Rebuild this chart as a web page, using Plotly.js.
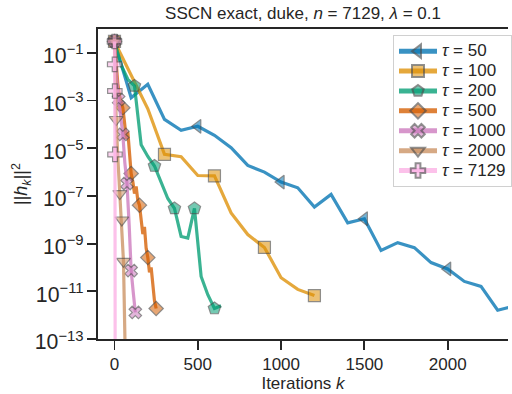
<!DOCTYPE html>
<html>
<head>
<meta charset="utf-8">
<script src="https://cdn.plot.ly/plotly-3.0.1.min.js"></script>
<style>html,body{margin:0;padding:0;background:#fff;}#chart{width:512px;height:394px;}</style>
</head>
<body>
<div id="chart"></div>
<script>
// Series labels
const tauLabels = ["50", "100", "200", "500", "1000", "2000", "7129"];

// tau = 50
const x50 = [0,100,200,300,400,500,600,700,800,900,1000,1100,1200,1300,1400,1500,1600,1700,1800,1900,2000,2100,2200,2300,2400];
const y50 = [3.0e-1,1.32e-3,4.8e-3,1.62e-4,5.6e-5,8.3e-5,3.5e-5,1.05e-5,1.9e-6,1.0e-6,3.8e-7,2.2e-7,3.4e-8,1.15e-7,7.4e-9,1.1e-8,5.2e-10,1.1e-9,6.8e-10,1.6e-10,8.7e-11,2.6e-11,1.6e-11,1.6e-12,2.4e-12];
const m50 = [0,5,10,15,20];

// tau = 100
const x100 = [0,100,200,300,400,500,600,700,800,900,1000,1100,1200];
const y100 = [3.0e-1,1.26e-2,4.5e-4,5.5e-6,4.4e-6,7.2e-7,6.9e-7,1.95e-8,2.4e-9,6.9e-10,3.7e-11,1.2e-11,6.6e-12];
const m100 = [0,3,6,9,12];

// tau = 200
const x200 = [0,40,80,120,160,200,240,280,320,360,400,440,480,520,560,600,640];
const y200 = [3.0e-1,3.0e-2,7.8e-3,4.1e-3,1.4e-5,4.5e-6,1.8e-6,4.1e-7,7.8e-8,3.0e-8,2.0e-9,1.7e-9,3.0e-8,4.2e-11,7.2e-12,1.9e-12,2.5e-12];
const m200 = [0,3,6,9,12,15];

// tau = 500
const x500 = [0,10,20,30,40,50,60,70,80,90,100,110,120,130,140,150,160,170,180,190,200,210,220,230,240,250];
const y500 = [3.0e-1,2.5e-2,5.0e-3,1.6e-3,7.9e-4,5.0e-4,1.26e-4,2.5e-5,5.0e-5,4.0e-6,8.7e-7,4.0e-7,1.26e-7,2.5e-7,6.3e-8,4.1e-8,1.0e-8,2.5e-9,5.0e-9,6.3e-10,2.6e-10,6.3e-11,1.0e-10,1.26e-11,4.0e-12,1.9e-12];
const m500 = [0,5,10,15,20,25];

// tau = 1000
const x1000 = [0,12,25,37,50,62,75,88,100,112,125];
const y1000 = [3.0e-1,1.0e-2,1.1e-3,2.0e-4,3.8e-5,2.5e-6,3.3e-7,6.3e-9,7.4e-11,1.0e-11,1.3e-12];
const m1000 = [0,2,4,6,8,10];

// tau = 2000
const x2000 = [0,10,20,32,44,54,64];
const y2000 = [3.0e-1,1.6e-4,4.0e-6,1.26e-7,9.8e-9,1.8e-10,3.2e-14];
const m2000 = [0,1,3,4,5];

// tau = 7129
const x7129 = [0,1,2,3,4];
const y7129 = [3.0e-1,3.3e-2,2.5e-3,5.5e-6,1.0e-14];
const m7129 = [0,1,2,3,4];

const series = [
  {x:x50, y:y50, m:m50, c:[1,115,178], sym:"triangle-left", s:12},
  {x:x100, y:y100, m:m100, c:[222,143,5], sym:"square", s:12},
  {x:x200, y:y200, m:m200, c:[2,158,115], sym:"pentagon", s:13},
  {x:x500, y:y500, m:m500, c:[213,94,0], sym:"diamond", s:11},
  {x:x1000, y:y1000, m:m1000, c:[204,120,188], sym:"x", s:11},
  {x:x2000, y:y2000, m:m2000, c:[202,145,97], sym:"triangle-down", s:12},
  {x:x7129, y:y7129, m:m7129, c:[251,175,228], sym:"cross", s:12}
];

const A = 0.78;
const traces = series.map((d, i) => {
  const col = `rgba(${d.c[0]},${d.c[1]},${d.c[2]},${A})`;
  const sizes = d.x.map((_, j) => d.m.includes(j) ? d.s : 0);
  const lw = d.x.map((_, j) => d.m.includes(j) ? 1.2 : 0);
  return {
    x: d.x, y: d.y, type: "scatter", mode: "lines+markers",
    name: '<span style="font-size:17px"><i>τ</i> = ' + tauLabels[i] + '</span>',
    line: {color: col, width: 3.2},
    marker: {symbol: d.sym, size: sizes, color: col,
             line: {color: "rgba(70,70,70,0.85)", width: lw}},
    hoverinfo: "skip"
  };
});

const fam = "Liberation Sans, Arial, sans-serif";
const font = {family: fam, size: 17, color: "#262626"};

const layout = {
  width: 512, height: 394,
  margin: {l: 98, r: 0, t: 29, b: 55, pad: 0},
  paper_bgcolor: "#fff", plot_bgcolor: "#fff",
  font: font,
  showlegend: true,
  title: {text: "SSCN exact, duke, <i>n</i> = 7129, <i>λ</i> = 0.1",
          x: 0.5, xref: "paper", xanchor: "center",
          y: 1 - 13/394, yref: "container", yanchor: "middle",
          font: {family: fam, size: 17, color: "#262626"}},
  xaxis: {
    range: [-99, 2362], showgrid: false, zeroline: false,
    showline: true, linecolor: "#262626", linewidth: 2, mirror: true,
    ticks: "outside", ticklen: 9, tickwidth: 1.8, tickcolor: "#262626",
    tick0: 0, dtick: 500,
    tickfont: font,
    title: {text: "Iterations <i>k</i>", font: font, standoff: 3}
  },
  yaxis: {
    type: "log", range: [-13, 0], showgrid: false, zeroline: false,
    showline: true, linecolor: "#262626", linewidth: 2, mirror: false,
    ticks: "outside", ticklen: 9, tickwidth: 1.8, tickcolor: "#262626",
    tick0: -1, dtick: 2, exponentformat: "power", showexponent: "all",
    tickfont: font, ticklabelshift: 3,
    title: {text: "||<i>h</i><sub><i>k</i></sub>||<sup>2</sup>", font: {family: fam, size: 18, color: "#262626"}, standoff: 2}
  },
  legend: {
    x: 0.72, xanchor: "left", y: 0.98, yanchor: "top",
    bgcolor: "rgba(255,255,255,0.9)", bordercolor: "#d0d0d0", borderwidth: 1,
    font: {family: fam, size: 13, color: "#262626"},
    itemsizing: "constant", itemwidth: 38, traceorder: "normal"
  }
};

Plotly.newPlot("chart", traces, layout, {displayModeBar: false, staticPlot: true});
</script>
</body>
</html>
